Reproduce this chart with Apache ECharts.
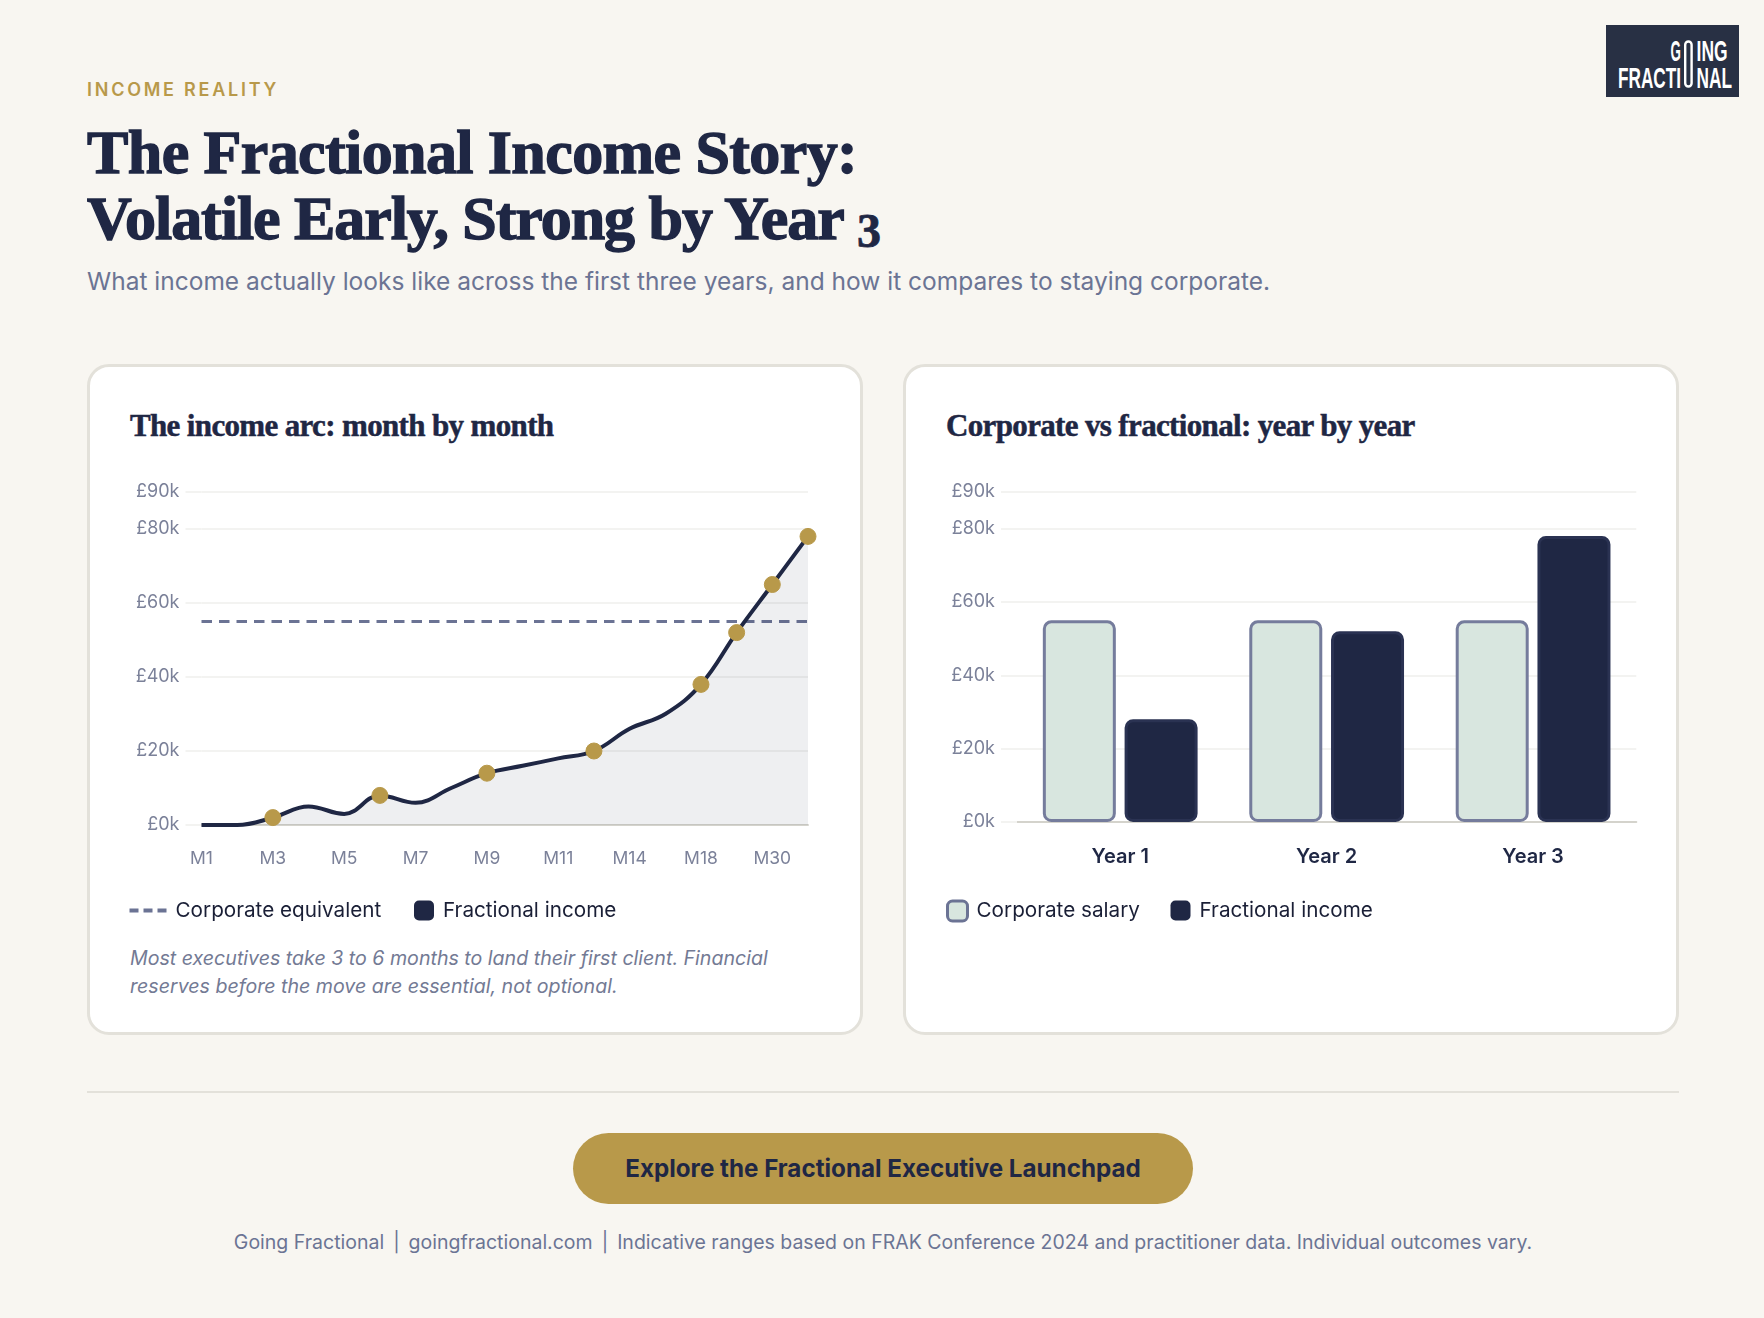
<!DOCTYPE html>
<html><head><meta charset="utf-8">
<script src="https://cdn.jsdelivr.net/npm/echarts@6/dist/echarts.min.js"></script>
<style>
html,body{margin:0;padding:0;width:1764px;height:1318px;background:#f8f6f1;overflow:hidden;font-family:Inter,"Noto Sans",sans-serif}
.abs{position:absolute;white-space:nowrap}
.card{position:absolute;top:364px;height:671px;box-sizing:border-box;background:#fff;border:3px solid #e3e1da;border-radius:22px}
.ct{font-family:"Liberation Serif",serif;font-weight:700;font-size:31px;letter-spacing:-.65px;color:#1f2744;-webkit-text-stroke:.5px #1f2744}
.sep{margin:0 9px}
</style></head><body>
<div class="abs" style="left:87px;top:79px;font-size:18px;font-weight:600;letter-spacing:2.75px;color:#b8994a;line-height:22px">INCOME REALITY</div>
<div class="abs" style="left:87px;top:119px;font-family:'Liberation Serif',serif;font-weight:700;font-size:62px;line-height:66px;color:#1f2744;-webkit-text-stroke:1.4px #1f2744"><span style="letter-spacing:-.6px">The Fractional Income Story:</span><br><span style="letter-spacing:-1.05px">Volatile Early, Strong by Year <span style="font-size:48px;vertical-align:-8px;-webkit-text-stroke:.8px #1f2744">3</span></span></div>
<div class="abs" style="left:87px;top:265px;font-size:24.5px;line-height:32px;color:#6b7494">What income actually looks like across the first three years, and how it compares to staying corporate.</div>

<svg class="abs" style="left:1606px;top:25px" width="133" height="72" viewBox="0 0 133 72">
<rect width="133" height="72" fill="#283044"/>
<g fill="#fff" font-family="'Liberation Sans Narrow','Liberation Sans',sans-serif" font-size="30" font-weight="700">
<text x="64.6" y="36" textLength="10.4" lengthAdjust="spacingAndGlyphs">G</text>
<text x="90.6" y="36" textLength="31" lengthAdjust="spacingAndGlyphs">ING</text>
<text x="12" y="62.5" textLength="63" lengthAdjust="spacingAndGlyphs">FRACTI</text>
<text x="90.6" y="62.5" textLength="35.4" lengthAdjust="spacingAndGlyphs">NAL</text>
</g>
<rect x="79.2" y="16.5" width="6.4" height="45" rx="3.2" fill="none" stroke="#fff" stroke-width="2.4"/>
</svg>

<div class="card" style="left:87px;width:776px"></div>
<div class="card" style="left:903px;width:776px"></div>
<div class="abs ct" style="left:130px;top:406px;line-height:40px">The income arc: month by month</div>
<div class="abs ct" style="left:946px;top:406px;line-height:40px">Corporate vs fractional: year by year</div>

<div id="c1" class="abs" style="left:88px;top:460px;width:775px;height:470px"></div>
<div id="c2" class="abs" style="left:903px;top:460px;width:776px;height:470px"></div>

<div class="abs" style="left:130px;top:944px;font-size:19.6px;font-style:italic;line-height:28px;color:#737a94">Most executives take 3 to 6 months to land their first client. Financial<br>reserves before the move are essential, not optional.</div>

<div class="abs" style="left:87px;top:1091px;width:1592px;height:2px;background:#e3e1da"></div>
<div class="abs" style="left:573px;top:1133px;width:620px;height:71px;border-radius:35.5px;background:#b8994a;text-align:center;line-height:72px;font-size:24.2px;font-weight:700;color:#1f2744">Explore the Fractional Executive Launchpad</div>
<div class="abs" style="left:0;width:1766px;top:1228px;text-align:center;font-size:19.5px;line-height:28px;color:#6b7494">Going Fractional<span class="sep">|</span>goingfractional.com<span class="sep">|</span>Indicative ranges based on FRAK Conference 2024 and practitioner data. Individual outcomes vary.</div>

<script>
const months = ['M1','M2','M3','M4','M5','M6','M7','M8','M9','M10','M11','M12','M14','M16','M18','M24','M30','M36'];
const fractionalMonthly = [0,0,2,5,3,8,6,10,14,16,18,20,26,30,38,52,65,78];
const corporateMonthly = [55,55,55,55,55,55,55,55,55,55,55,55,55,55,55,55,55,55];
const markedMonths = ['M3','M6','M9','M12','M18','M24','M30','M36'];
const years = ['Year 1','Year 2','Year 3'];
const corporateYearly = [55,55,55];
const fractionalYearly = [28,52,78];

const NAVY='#1f2744', SLATE='#6b7394', BAREDGE='#757c9c', NAVYEDGE='#2a3252', GOLD='#b8994a', MINT='#d8e6df', GRID='#f3f3f1', BASE='#d4d3cc', LABEL='#7b8199';
const FONT='Inter';
const SQUARE='path://M5 0h10a5 5 0 0 1 5 5v10a5 5 0 0 1-5 5h-10a5 5 0 0 1-5-5v-10a5 5 0 0 1 5-5z';
const DASHES='path://M0 0h9v4h-9z M14 0h9v4h-9z M28 0h9v4h-9z';

function yAxis(){return {type:'value',min:0,max:90,interval:20,
  axisLine:{show:false},axisTick:{show:true,length:16,lineStyle:{color:GRID,width:2}},
  splitLine:{lineStyle:{color:GRID,width:2}},
  axisLabel:{formatter:'£{value}k',color:LABEL,fontFamily:FONT,fontSize:18,margin:22,padding:[2,0,0,0]}};}
function legend(left,top,name,icon,w,h,color,extra){return {left,top,orient:'horizontal',itemWidth:w,itemHeight:h,itemGap:0,
  selectedMode:false,data:[{name,icon,itemStyle:Object.assign({color,borderColor:color,borderWidth:0},extra||{})}],
  textStyle:{color:'#1a1f36',fontFamily:FONT,fontSize:20.7,padding:[0,0,0,4]}};}

const c1=echarts.init(document.getElementById('c1'));
c1.setOption({
  animation:false,
  grid:{left:113.5,top:32,width:606.5,height:333},
  legend:[
    legend(36.5,435,'Corporate equivalent',DASHES,37,4,SLATE),
    legend(321,435,'Fractional income',SQUARE,20,20,NAVY)
  ],
  xAxis:{type:'category',data:months,boundaryGap:false,
    axisLine:{lineStyle:{color:BASE,width:2}},axisTick:{show:false},
    axisLabel:{interval:1,color:LABEL,fontFamily:FONT,fontSize:17.5,margin:25}},
  yAxis:yAxis(),
  series:[
    {name:'Corporate equivalent',type:'line',data:corporateMonthly,symbol:'none',color:SLATE,z:3,
      lineStyle:{color:SLATE,width:3,type:[10.5,7]}},
    {name:'Fractional income',type:'line',data:fractionalMonthly,smooth:0.4,color:NAVY,z:4,clip:false,
      showAllSymbol:true,symbolSize:16,
      symbol:(v,p)=>markedMonths.includes(months[p.dataIndex])?'circle':'none',
      itemStyle:{color:GOLD,borderColor:GOLD},
      lineStyle:{color:NAVY,width:4},
      areaStyle:{color:'rgba(31,39,68,0.076)',opacity:1}}
  ]
});

const c2=echarts.init(document.getElementById('c2'));
c2.setOption({
  animation:false,
  grid:{left:114,top:32,width:619.3,height:330},
  legend:[
    legend(38,434.5,'Corporate salary',SQUARE,20,20,MINT,{borderColor:SLATE,borderWidth:3}),
    legend(262.5,435,'Fractional income',SQUARE,20,20,NAVY)
  ],
  xAxis:{type:'category',data:years,
    axisLine:{lineStyle:{color:BASE,width:2}},axisTick:{show:false},
    axisLabel:{color:NAVY,fontFamily:FONT,fontWeight:600,fontSize:20,margin:25}},
  yAxis:yAxis(),
  series:[
    {name:'Corporate salary',type:'bar',data:corporateYearly,barWidth:73,barGap:'12%',color:MINT,
      itemStyle:{color:MINT,borderColor:BAREDGE,borderWidth:3,borderRadius:7}},
    {name:'Fractional income',type:'bar',data:fractionalYearly,barWidth:73,color:NAVY,
      itemStyle:{color:NAVY,borderColor:NAVYEDGE,borderWidth:3,borderRadius:7}}
  ]
});
</script>
</body></html>
